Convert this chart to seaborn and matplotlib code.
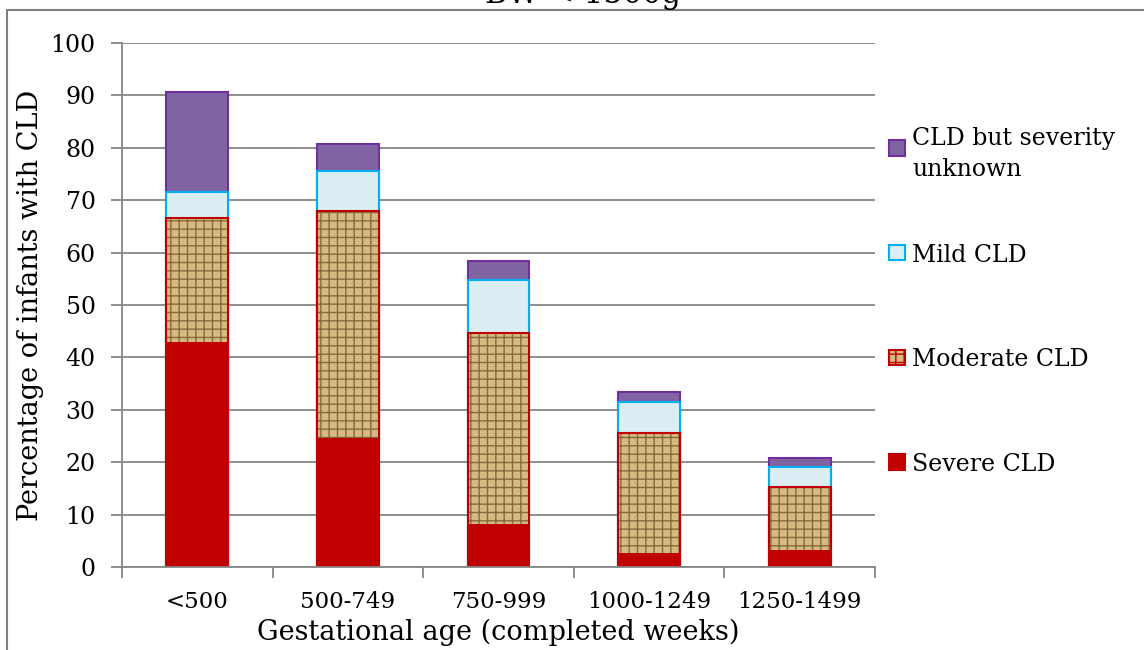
import matplotlib
matplotlib.use("Agg")
import matplotlib.pyplot as plt
import matplotlib.transforms as mtransforms
from matplotlib.patches import Rectangle
from matplotlib.lines import Line2D
import pandas as pd
import seaborn as sns

# values (percent of infants)
groups = ["<500", "500-749", "750-999", "1000-1249", "1250-1499"]
severe = [43.0, 24.6, 8.2, 2.7, 3.2]
moderate = [23.6, 43.3, 36.5, 22.9, 12.1]
mild = [5.0, 7.7, 10.1, 5.9, 3.8]
unknown = [19.0, 5.1, 3.6, 1.9, 1.7]

series_names = ["CLD but severity\nunknown", "Mild CLD", "Moderate CLD", "Severe CLD"]
y_ticks = [0, 10, 20, 30, 40, 50, 60, 70, 80, 90, 100]

sns.set_theme(style="white")
plt.rcParams["font.family"] = ["DejaVu Serif"]
plt.rcParams["hatch.linewidth"] = 1.0
plt.rcParams["text.color"] = "black"
plt.rcParams["axes.labelcolor"] = "black"

df = pd.DataFrame({"group": groups, "severe": severe, "moderate": moderate,
                   "mild": mild, "unknown": unknown})
df["t_sev"] = df["severe"]
df["t_mod"] = df["t_sev"] + df["moderate"]
df["t_mild"] = df["t_mod"] + df["mild"]
df["t_unk"] = df["t_mild"] + df["unknown"]

W, H = 1144, 650
fig = plt.figure(figsize=(W / 100, H / 100), dpi=100)
ax = fig.add_axes([122 / W, 1 - 567 / H, (875 - 122) / W, (567 - 43) / H])

grey = "#868686"
bw = 0.41
# stacked bars drawn as overlapping cumulative totals
sns.barplot(data=df, x="group", y="t_unk", color="#8064a2", edgecolor="#7030a0",
            linewidth=1.5, width=bw, saturation=1, errorbar=None, ax=ax)
sns.barplot(data=df, x="group", y="t_mild", color="#dbeef4", edgecolor="#00b0f0",
            linewidth=1.5, width=bw, saturation=1, errorbar=None, ax=ax)
sns.barplot(data=df, x="group", y="t_mod", color="#d6ba82", edgecolor="#866a3e",
            linewidth=0, hatch="++", width=bw, saturation=1, errorbar=None, ax=ax)
sns.barplot(data=df, x="group", y="t_mod", color="#c00000", fill=False,
            linewidth=1.5, width=bw, saturation=1, errorbar=None, ax=ax)
sns.barplot(data=df, x="group", y="t_sev", color="#c00000", edgecolor="#c00000",
            linewidth=0, width=bw, saturation=1, errorbar=None, ax=ax)

ax.set_xlim(-0.5, len(groups) - 0.5)
ax.set_ylim(0, 100)
ax.set_yticks(y_ticks)
ax.set_xticks([i - 0.5 for i in range(len(groups) + 1)], minor=True)
ax.yaxis.grid(True, color=grey, linewidth=1.3)
ax.set_axisbelow(True)
for s in ["top", "right"]:
    ax.spines[s].set_visible(False)
for s in ["left", "bottom"]:
    ax.spines[s].set_color(grey)
    ax.spines[s].set_linewidth(1.3)
ax.tick_params(axis="x", which="major", length=0, pad=17, labelsize=16.5, labelcolor="black")
ax.tick_params(axis="x", which="minor", length=8, width=1.3, color=grey, direction="out", bottom=True)
ax.tick_params(axis="y", length=8, width=1.3, color=grey, direction="out", left=True, pad=11,
               labelsize=17, labelcolor="black")
ax.set_xlabel("Gestational age (completed weeks)", fontsize=19.5, labelpad=4)
ax.set_ylabel("Percentage of infants with CLD", fontsize=19.5, labelpad=5)

# legend on the right, one entry per gridline
colors = [("#8064a2", "#7030a0", None), ("#dbeef4", "#00b0f0", None),
          ("#d6ba82", "#c00000", "++"), ("#c00000", "#c00000", None)]
trans = mtransforms.blended_transform_factory(fig.transFigure, ax.transData)
sq_w = 16 / W
for name, (fc, ec, hatch), yv in zip(series_names, colors, [80, 60, 40, 20]):
    ax.add_patch(Rectangle((889 / W, yv - 1.5), sq_w, 3.0, transform=trans, facecolor=fc,
                           edgecolor=ec, linewidth=1.5, hatch=hatch, clip_on=False))
    ax.text(912 / W, yv, name, transform=trans, ha="left", va="center_baseline",
            fontsize=17, linespacing=1.45)

# cropped title and outer frame
fig.text(583 / W, 1 - 3 / H, "BW < 1500g", ha="center", va="baseline", fontsize=22)
fig.add_artist(Line2D([7 / W, 1], [1 - 10 / H, 1 - 10 / H], color="#7f7f7f", linewidth=1.5))
fig.add_artist(Line2D([7 / W, 7 / W], [0, 1 - 10 / H], color="#7f7f7f", linewidth=1.5))

fig.savefig("out.png", dpi=100)
